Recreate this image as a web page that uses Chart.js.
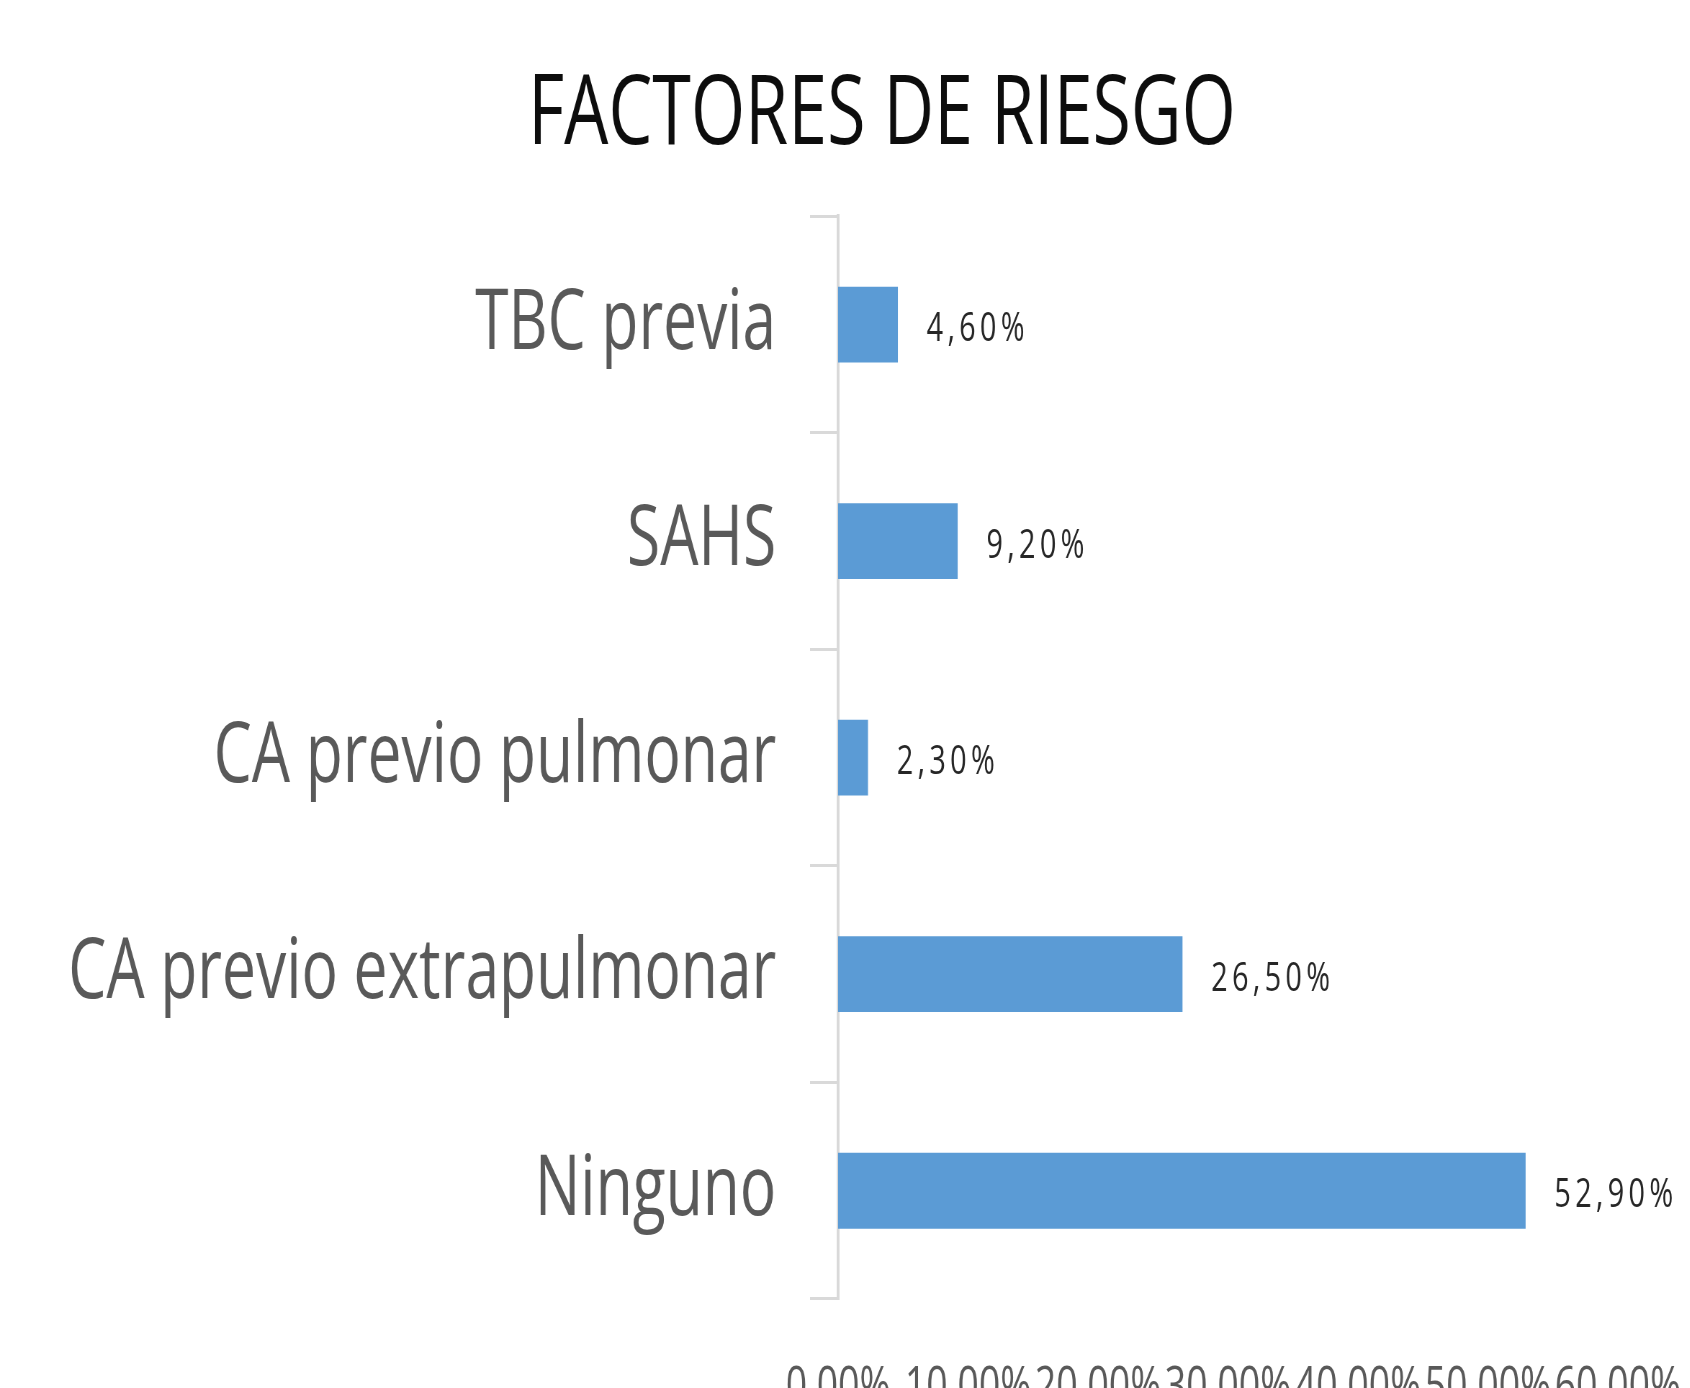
<!DOCTYPE html>
<html>
<head>
<meta charset="utf-8">
<title>Factores de riesgo</title>
<script src="https://cdn.jsdelivr.net/npm/chart.js@4/dist/chart.umd.min.js"></script>
<style>
  html, body { margin: 0; padding: 0; background: #fff; overflow: hidden; }
  #wrap {
    width: 2450px;
    height: 1388px;
    transform: scaleX(0.72);
    transform-origin: 0 0;
  }
</style>
</head>
<body>
<div id="wrap"><canvas id="chart" width="2450" height="1388"></canvas></div>
<script>
// datos del gráfico
const categorias = ['TBC previa', 'SAHS', 'CA previo pulmonar', 'CA previo extrapulmonar', 'Ninguno'];
const porcentajes = [4.6, 9.2, 2.3, 26.5, 52.9];
const ticksX = [0, 10, 20, 30, 40, 50, 60];

const fmt = v => v.toFixed(2).replace('.', ',') + '%';

// etiquetas de valor a la derecha de cada barra
const etiquetasValor = {
  id: 'etiquetasValor',
  afterDatasetsDraw(chart) {
    const ctx = chart.ctx;
    const meta = chart.getDatasetMeta(0);
    ctx.save();
    ctx.font = '40px "Open Sans"';
    ctx.fillStyle = '#262626';
    ctx.textAlign = 'left';
    ctx.textBaseline = 'middle';
    if ('letterSpacing' in ctx) ctx.letterSpacing = '6px';
    meta.data.forEach((bar, i) => {
      ctx.fillText(fmt(porcentajes[i]), bar.x + 40, bar.y + 5);
    });
    ctx.restore();
  }
};

new Chart(document.getElementById('chart'), {
  type: 'bar',
  data: {
    labels: categorias,
    datasets: [{
      data: porcentajes,
      backgroundColor: '#5b9bd5',
      barPercentage: 0.35,
      categoryPercentage: 1
    }]
  },
  options: {
    indexAxis: 'y',
    responsive: false,
    animation: false,
    devicePixelRatio: 1,
    layout: { padding: 0 },
    plugins: {
      legend: { display: false },
      tooltip: { enabled: false },
      title: {
        display: true,
        text: 'FACTORES DE RIESGO',
        color: '#0d0d0d',
        font: { family: '"Open Sans"', size: 97, weight: 'normal', lineHeight: 1.2 },
        padding: { top: 58, bottom: 42 }
      }
    },
    scales: {
      x: {
        min: 0,
        max: 60,
        afterBuildTicks(scale) { scale.ticks = ticksX.map(v => ({ value: v })); },
        afterFit(scale) { scale.height = 89; },
        grid: { display: false },
        border: { display: false },
        ticks: {
          autoSkip: false,
          maxRotation: 0,
          padding: 50,
          color: '#595959',
          font: { family: '"Open Sans"', size: 52 },
          callback: v => fmt(v)
        }
      },
      y: {
        afterFit(scale) {
          scale.width = 1164;
          scale.paddingTop = 0;
          scale.paddingBottom = 0;
        },
        grid: {
          offset: true,
          drawOnChartArea: false,
          drawTicks: true,
          tickLength: 39,
          tickWidth: 3,
          tickColor: '#d9d9d9'
        },
        border: { color: '#d9d9d9', width: 4 },
        ticks: {
          padding: 47,
          color: '#595959',
          font: { family: '"Open Sans"', size: 84 }
        }
      },
      // margen derecho vacío (deja sitio a la última etiqueta)
      margen: {
        type: 'category',
        position: 'right',
        afterFit(scale) { scale.width = 203; },
        grid: { display: false },
        border: { display: false },
        ticks: { display: false }
      }
    }
  },
  plugins: [etiquetasValor]
});
</script>
</body>
</html>
